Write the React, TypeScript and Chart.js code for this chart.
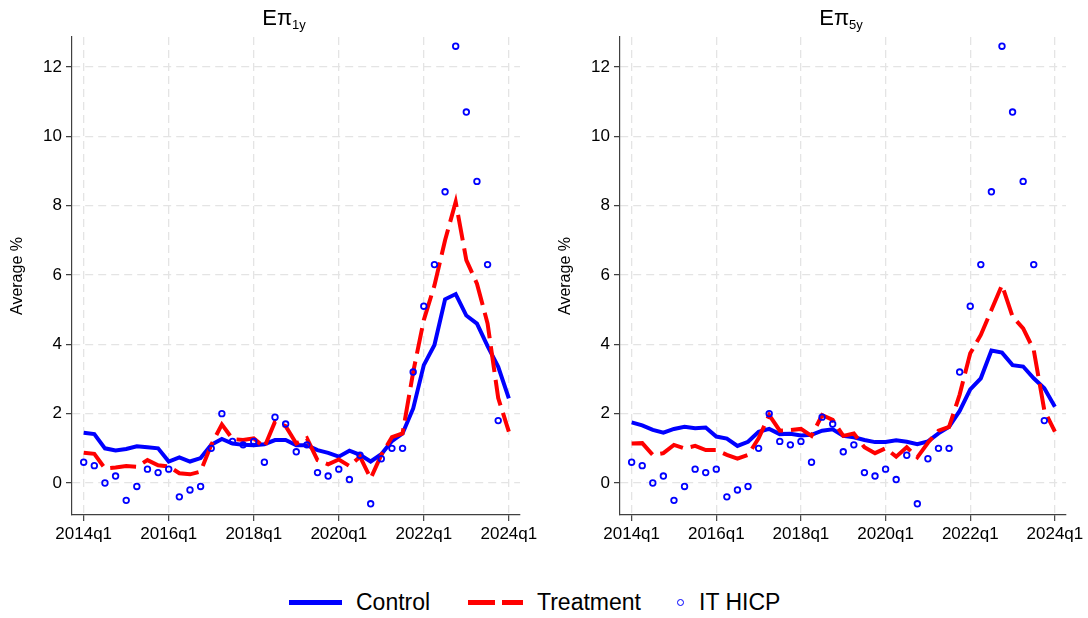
import React, { useEffect, useRef } from "react";
import { Chart, registerables } from "chart.js";

Chart.register(...registerables);
Chart.defaults.font.family = "'Liberation Sans', Arial, sans-serif";
Chart.defaults.color = "#000";

// ---------- data ----------
const tickValues = [0, 8, 16, 24, 32, 40];
const tickLabels = ["2014q1", "2016q1", "2018q1", "2020q1", "2022q1", "2024q1"];
const yTickValues = [0, 2, 4, 6, 8, 10, 12];

// quarterly observations 2014q1 .. 2024q1 (index 0..40)
const itHicp = [
  0.6, 0.5, 0.0, 0.2, -0.5, -0.1, 0.4, 0.3, 0.4, -0.4,
  -0.2, -0.1, 1.0, 2.0, 1.2, 1.1, 1.2, 0.6, 1.9, 1.7,
  0.9, 1.1, 0.3, 0.2, 0.4, 0.1, 0.8, -0.6, 0.7, 1.0,
  1.0, 3.2, 5.1, 6.3, 8.4, 12.6, 10.7, 8.7, 6.3, 1.8, null,
];

const control1y = [
  1.45, 1.41, 1.0, 0.94, 0.98, 1.06, 1.03, 1.0, 0.62, 0.74,
  0.62, 0.72, 1.1, 1.27, 1.14, 1.1, 1.09, 1.12, 1.24, 1.24,
  1.09, 1.09, 0.95, 0.87, 0.76, 0.93, 0.81, 0.62, 0.83, 1.21,
  1.43, 2.15, 3.4, 3.98, 5.3, 5.45, 4.83, 4.6, 3.95, 3.35, 2.44,
];
const treatment1y = [
  0.87, 0.84, 0.42, 0.45, 0.49, 0.47, 0.66, 0.51, 0.48, 0.28,
  0.25, 0.33, 1.1, 1.69, 1.27, 1.24, 1.29, 1.03, 1.77, 1.64,
  1.14, 1.29, 0.66, 0.54, 0.68, 0.49, 0.76, 0.13, 0.81, 1.32,
  1.43, 3.2, 4.7, 5.7, 7.0, 8.11, 6.43, 5.75, 4.6, 2.45, 1.48,
];
const control5y = [
  1.75, 1.66, 1.53, 1.45, 1.56, 1.62, 1.58, 1.6, 1.34, 1.28,
  1.07, 1.19, 1.48, 1.56, 1.41, 1.42, 1.37, 1.39, 1.51, 1.55,
  1.36, 1.32, 1.24, 1.18, 1.18, 1.23, 1.19, 1.12, 1.2, 1.43,
  1.62, 2.08, 2.7, 3.02, 3.82, 3.76, 3.4, 3.36, 3.02, 2.73, 2.2,
];
const treatment5y = [
  1.14, 1.15, 0.81, 0.86, 1.1, 1.0, 1.07, 0.95, 0.95, 0.81,
  0.7, 0.81, 1.29, 1.96, 1.51, 1.53, 1.56, 1.36, 1.96, 1.82,
  1.36, 1.43, 1.03, 0.86, 1.0, 0.76, 1.03, 0.74, 1.16, 1.51,
  1.62, 2.55, 3.74, 4.27, 4.99, 5.71, 4.8, 4.46, 3.84, 2.1, 1.48,
];

const FONT = "'Liberation Sans', Arial, sans-serif";
const BLUE = "#0000ff";
const RED = "#ff0000";
const AXIS = "#404040";
const GRID = "#e4e4e4";

const toXY = (arr: (number | null)[]) => arr.map((v, i) => ({ x: i, y: v }));

type PanelProps = {
  left: number;
  width: number;
  padRight: number;
  control: number[];
  treatment: number[];
};

function Panel({ left, width, padRight, control, treatment }: PanelProps) {
  const ref = useRef<HTMLCanvasElement | null>(null);
  useEffect(() => {
    if (!ref.current) return;
    const chart = new Chart(ref.current, {
      type: "line",
      data: {
        datasets: [
          {
            label: "Control",
            data: toXY(control),
            borderColor: BLUE,
            backgroundColor: BLUE,
            borderWidth: 4,
            pointRadius: 0,
            tension: 0,
            order: 3,
          },
          {
            label: "Treatment",
            data: toXY(treatment),
            borderColor: RED,
            backgroundColor: RED,
            borderWidth: 4,
            borderDash: [26, 8],
            borderCapStyle: "butt",
            pointRadius: 0,
            tension: 0,
            order: 2,
          },
          {
            label: "IT HICP",
            data: toXY(itHicp),
            showLine: false,
            borderColor: BLUE,
            backgroundColor: "rgba(0,0,0,0)",
            pointRadius: 2.8,
            pointBorderWidth: 1.8,
            pointBorderColor: BLUE,
            pointBackgroundColor: "rgba(0,0,0,0)",
            order: 1,
          },
        ],
      },
      options: {
        responsive: false,
        animation: false,
        devicePixelRatio: 1,
        events: [],
        layout: { padding: { left: 0, right: padRight, top: 37, bottom: 0 } },
        plugins: {
          legend: { display: false },
          tooltip: { enabled: false },
          title: { display: false },
        },
        scales: {
          x: {
            type: "linear",
            min: -1.1,
            max: 41.05,
            afterBuildTicks: (s: any) => {
              s.ticks = tickValues.map((v) => ({ value: v }));
            },
            afterFit: (s: any) => {
              s.height = 45;
              s.paddingLeft = 0;
              s.paddingRight = 0;
            },
            ticks: {
              autoSkip: false,
              maxRotation: 0,
              padding: 3,
              color: "#000",
              font: { size: 17, family: FONT },
              callback: (v: any) => {
                const k = tickValues.indexOf(Number(v));
                return k >= 0 ? tickLabels[k] : "";
              },
            },
            grid: {
              color: GRID,
              lineWidth: 1.3,
              drawTicks: true,
              tickLength: 6,
              tickColor: AXIS,
              tickWidth: 1.2,
              tickBorderDash: [1, 0],
            },
            border: { display: true, color: AXIS, width: 1.2, dash: [8, 5] },
          },
          y: {
            type: "linear",
            min: -0.923,
            max: 12.865,
            afterBuildTicks: (s: any) => {
              s.ticks = yTickValues.map((v) => ({ value: v }));
            },
            afterFit: (s: any) => {
              s.width = 72;
            },
            ticks: {
              padding: 4,
              color: "#000",
              font: { size: 17, family: FONT },
              callback: (v: any) => String(v),
            },
            title: {
              display: true,
              text: "Average %",
              color: "#000",
              font: { size: 16, family: FONT },
              padding: { top: 8, bottom: 0 },
            },
            grid: {
              color: GRID,
              lineWidth: 1.3,
              drawTicks: true,
              tickLength: 6,
              tickColor: AXIS,
              tickWidth: 1.2,
              tickBorderDash: [1, 0],
            },
            border: { display: true, color: AXIS, width: 1.2, dash: [8, 5] },
          },
        },
      },
    } as any);
    return () => chart.destroy();
  }, []);
  return (
    <canvas
      ref={ref}
      width={width}
      height={560}
      style={{ position: "absolute", left, top: 0, width, height: 560 }}
    />
  );
}

function Title({ center, sub }: { center: number; sub: string }) {
  return (
    <div
      style={{
        position: "absolute",
        left: center - 100,
        top: 7,
        width: 200,
        textAlign: "center",
        fontFamily: FONT,
        fontSize: 22,
        lineHeight: "22px",
        color: "#000",
        whiteSpace: "nowrap",
      }}
    >
      Eπ
      <sub style={{ fontSize: 13, verticalAlign: "-4px", lineHeight: 0 }}>{sub}</sub>
    </div>
  );
}

function Legend() {
  const text: React.CSSProperties = {
    position: "absolute",
    top: 590.5,
    fontFamily: FONT,
    fontSize: 23,
    lineHeight: "23px",
    color: "#000",
    whiteSpace: "nowrap",
  };
  return (
    <>
      <div style={{ position: "absolute", left: 289, top: 599.5, width: 53, height: 5, background: BLUE }} />
      <div style={{ ...text, left: 356 }}>Control</div>
      <div style={{ position: "absolute", left: 468, top: 599.5, width: 27, height: 5, background: RED }} />
      <div style={{ position: "absolute", left: 502, top: 599.5, width: 21, height: 5, background: RED }} />
      <div style={{ ...text, left: 537 }}>Treatment</div>
      <div
        style={{
          position: "absolute",
          left: 676.5,
          top: 598.5,
          width: 7.5,
          height: 7.5,
          boxSizing: "border-box",
          border: `1.8px solid ${BLUE}`,
          borderRadius: "50%",
        }}
      />
      <div style={{ ...text, left: 699 }}>IT HICP</div>
    </>
  );
}

export default function App() {
  return (
    <div
      style={{
        position: "absolute",
        left: 0,
        top: 0,
        width: 1088,
        height: 618,
        background: "#fff",
        overflow: "hidden",
      }}
    >
      <Panel left={0} width={544} padRight={24} control={control1y} treatment={treatment1y} />
      <Panel left={548} width={540} padRight={22} control={control5y} treatment={treatment5y} />
      <Title center={284} sub="1y" />
      <Title center={841} sub="5y" />
      <Legend />
    </div>
  );
}
